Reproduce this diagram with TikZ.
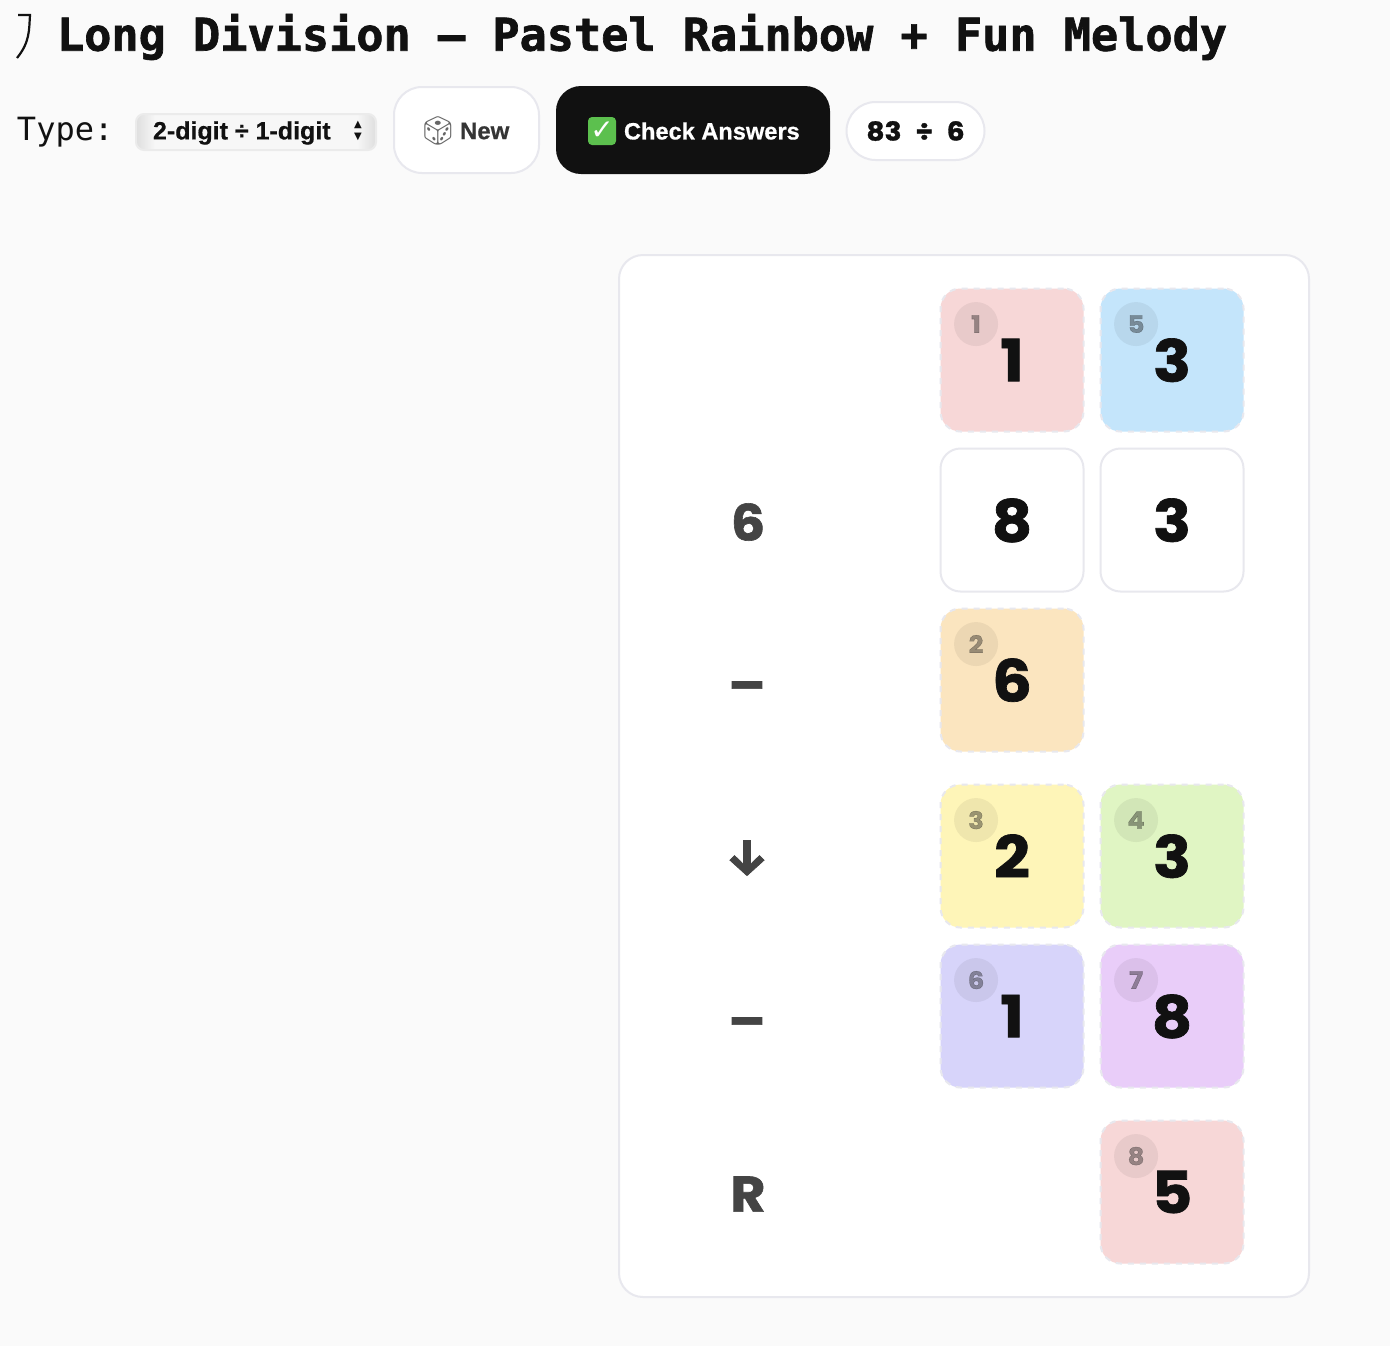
\documentclass[tikz,border=0pt]{standalone}
\usepackage{fontspec}
\setmainfont{Liberation Sans}[BoldFeatures={FakeBold=0.6}]
\setmonofont{DejaVu Sans Mono}
\newfontfamily\titlefont{DejaVu Sans Mono Bold}[FakeBold=1.5]
\newfontfamily\digitfont{Poppins}[BoldFeatures={FakeBold=1.2,FakeStretch=1.08}]
\newfontfamily\symfont{DejaVu Sans}
\newfontfamily\arrowfont{Fira Sans Bold}[FakeBold=1.5]
\newfontfamily\emojifont{Noto Emoji}
\usetikzlibrary{positioning}
\definecolor{pagebg}{HTML}{FAFAFA}
\definecolor{edge}{HTML}{E8E8EE}
\definecolor{ink}{HTML}{111111}
\definecolor{sidegray}{HTML}{444444}
\definecolor{checkgreen}{HTML}{5CC04E}
\definecolor{tpink}{HTML}{F7D7D7}
\definecolor{tblue}{HTML}{C4E5FB}
\definecolor{tpeach}{HTML}{FBE5BF}
\definecolor{tyellow}{HTML}{FEF5B8}
\definecolor{tgreen}{HTML}{E0F5C3}
\definecolor{tlavender}{HTML}{D7D4FA}
\definecolor{tpurple}{HTML}{E9CDF9}
\pgfdeclarehorizontalshading{selectshade}{100bp}{color(0bp)=(black!13); color(25bp)=(black!13); color(29bp)=(black!3); color(71bp)=(black!3); color(75bp)=(black!13); color(100bp)=(black!13)}

\begin{document}
\begin{tikzpicture}[x=0.5pt, y=-0.5pt, font=\sffamily, every node/.style={outer sep=0pt, inner sep=0pt},
  tile/.style={rectangle, rounded corners=10pt, draw=edge, line width=1pt, dashed, minimum size=71.5pt, font=\digitfont\bfseries\fontsize{29}{29}\selectfont, text=ink},
  plain/.style={tile, solid, fill=white},
  badge/.style={circle, minimum size=22pt, fill=black, fill opacity=.06, text opacity=.38, text=ink, font=\digitfont\bfseries\fontsize{12}{12}\selectfont},
  side/.style={text=sidegray, font=\digitfont\bfseries\fontsize{25}{25}\selectfont},
  btn/.style={rectangle, draw=edge, line width=1pt, fill=white, text=ink, font=\rmfamily\bfseries\fontsize{12.4}{12.4}\selectfont}]
\fill[pagebg] (0,0) rectangle (1390,1346);
\draw[ink, line width=1.1pt] (18,15) -- (30,15) .. controls (29,30) and (30,42) .. (17,58);
\node[anchor=west, text=ink, font=\titlefont\fontsize{22.6}{22.6}\selectfont] (title) at (57,37) {Long Division — Pastel Rainbow + Fun Melody};
\node[anchor=west, text=ink, font=\ttfamily\fontsize{16}{16}\selectfont] (type) at (17,132) {Type:};
\node[btn, draw=black!8, rounded corners=4pt, minimum width=120pt, minimum height=18pt, shade, shading=selectshade] (select) at (256,132) {};
\node[anchor=west, text=ink, font=\rmfamily\bfseries\fontsize{12.5}{12.5}\selectfont] (selecttext) at (153,133) {2-digit ÷ 1-digit};
\node[text=ink, align=center, font=\symfont\fontsize{5}{6.2}\selectfont] (selectarrows) at (358,131) {▲\\▼};
\node[btn, rounded corners=14pt, minimum width=72.5pt, minimum height=43pt] (newbtn) at (466.5,130) {};
\node[text=black!60, font=\emojifont\bfseries\fontsize{14}{14}\selectfont] (dice) at (438,131) {🎲};
\node[anchor=west, text=ink!85, font=\rmfamily\bfseries\fontsize{12}{12}\selectfont] (newtext) at (460,131) {New};
\node[btn, draw=ink, fill=ink, rounded corners=12pt, minimum width=136pt, minimum height=43pt] (checkbtn) at (693,130) {};
\node[rectangle, rounded corners=2pt, fill=checkgreen, minimum size=14pt, text=white, font=\symfont\bfseries\fontsize{14}{14}\selectfont] (checkbox) at (602,131) {✓};
\node[anchor=west, text=white, font=\rmfamily\bfseries\fontsize{11.8}{11.8}\selectfont] (checktext) at (624,131) {Check Answers};
\node[btn, rounded corners=14.5pt, minimum width=69pt, minimum height=29pt, font=\digitfont\bfseries\fontsize{13}{13}\selectfont] (problem) at (915.5,131) {83\hspace{7pt}÷\hspace{7pt}6};
\node[rectangle, draw=edge, line width=1pt, fill=white, rounded corners=12pt, minimum width=345pt, minimum height=521pt] (panel) at (964,776) {};
\node[tile, fill=tpink, text depth=-1pt] (q1) at (1012,360) {1};
\node[tile, fill=tblue, text depth=-1pt, right=8.5pt of q1] (q2) {3};
\node[plain, text depth=-1pt, below=8.5pt of q1] (d1) {8};
\node[plain, text depth=-1pt, right=8.5pt of d1] (d2) {3};
\node[tile, fill=tpeach, text depth=-1pt, below=8.5pt of d1] (s1) {6};
\node[tile, fill=tyellow, text depth=-1pt, below=16.5pt of s1] (r1) {2};
\node[tile, fill=tgreen, text depth=-1pt, right=8.5pt of r1] (r2) {3};
\node[tile, fill=tlavender, text depth=-1pt, below=8.5pt of r1] (s2) {1};
\node[tile, fill=tpurple, text depth=-1pt, right=8.5pt of s2] (s3) {8};
\node[tile, fill=tpink, text depth=-1pt, below=16.5pt of s3] (rem) {5};
\node[badge, below right=10pt and 10pt of q1.north west] (b1) {1};
\node[badge, below right=10pt and 10pt of q2.north west] (b5) {5};
\node[badge, below right=10pt and 10pt of s1.north west] (b2) {2};
\node[badge, below right=10pt and 10pt of r1.north west] (b3) {3};
\node[badge, below right=10pt and 10pt of r2.north west] (b4) {4};
\node[badge, below right=10pt and 10pt of s2.north west] (b6) {6};
\node[badge, below right=10pt and 10pt of s3.north west] (b7) {7};
\node[badge, below right=10pt and 10pt of rem.north west] (b8) {8};
\node[side] (divisor) at (748,522) {6};
\node[side] (minus1) at (747,692) {–};
\node[side, font=\arrowfont\fontsize{25}{25}\selectfont] (down) at (747,858) {↓};
\node[side] (minus2) at (747,1028) {–};
\node[side] (remlabel) at (748,1194) {R};
\end{tikzpicture}
\end{document}
